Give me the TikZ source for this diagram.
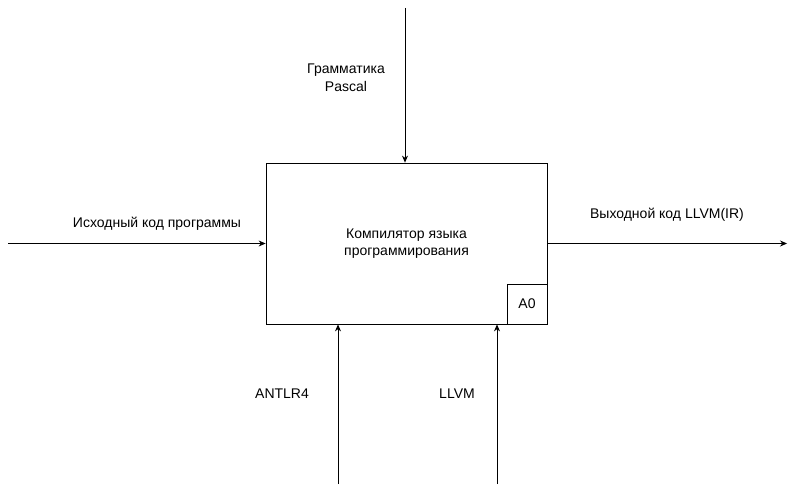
\documentclass[tikz,border=0pt]{standalone}
\usepackage{fontspec}
\setmainfont{Liberation Sans}
\usetikzlibrary{arrows.meta,positioning,calc}

\begin{document}
\begin{tikzpicture}[x=1pt,y=-1pt,>={Stealth[length=7pt,width=6pt]},font=\fontsize{14}{17.5}\selectfont]
\useasboundingbox (0,0) rectangle (795,494);
\node[draw,line width=0.8pt,minimum width=281pt,minimum height=161pt,inner sep=0pt,align=center] (comp) at (406.5,243.5) {Компилятор языка\\программирования};
\node[draw,line width=0.8pt,minimum width=40pt,minimum height=40pt,inner sep=0pt,anchor=south east] (a0) at (comp.south east) {A0};

\coordinate (inl) at (8,243.5);
\coordinate (outr) at (787,243.5);
\coordinate (ctop) at (405,8);
\coordinate (m1) at (338,484);
\coordinate (m2) at (497,484);

\draw[->,line width=0.8pt] (inl) -- (comp.west);
\draw[->,line width=0.8pt] (comp.east) -- (outr);
\draw[->,line width=0.8pt] (ctop) -- (ctop |- comp.north);
\draw[->,line width=0.8pt] (m1) -- (m1 |- comp.south);
\draw[->,line width=0.8pt] (m2) -- (m2 |- comp.south);

\node (intext) at (157,224) {Исходный код программы};
\node (outtext) at (667,215) {Выходной код LLVM(IR)};
\node[align=center] (ctext) at (346,78) {Грамматика\\Pascal};
\node (m1text) at (282,394) {ANTLR4};
\node (m2text) at (457,394) {LLVM};
\end{tikzpicture}
\end{document}
